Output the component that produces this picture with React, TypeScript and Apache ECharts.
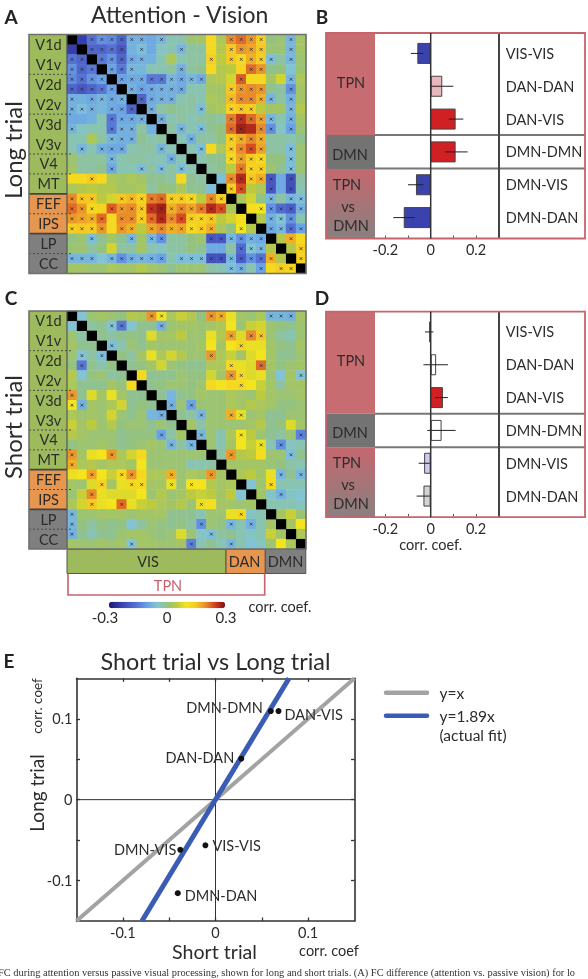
import React, { useEffect, useRef } from "react";
import * as echarts from "echarts";

// ---------- DATA ----------
const regionLabels = ["V1d","V1v","V2d","V2v","V3d","V3v","V4","MT","FEF","IPS","LP","CC"];
const cellIndex = Array.from({ length: 24 }, (_, i) => String(i));

// upper triangles, hundredths of a correlation coefficient
const longUpper = [
  [-24,-16,-12,-13,-18,-8,-8,-9,-7,-3,-3,1,2,12,3,20,22,19,14,0,1,-7,2],
  [-18,-18,-16,-20,-8,-6,-9,-4,-3,-7,-2,-2,12,4,15,19,18,15,1,1,-7,2],
  [-15,-12,-18,-9,-8,-8,-3,3,-3,-2,-2,14,5,15,12,17,14,-6,-2,-7,1],
  [-10,-15,-7,-7,-3,-3,-2,-8,-2,-1,12,4,5,13,22,19,-1,0,-5,1],
  [-10,-9,-9,-15,-15,-7,-9,-7,-9,3,4,7,23,12,12,2,7,-7,3],
  [-8,-10,-9,-8,-8,-9,-3,-3,2,2,15,19,20,19,-1,-2,-12,2],
  [-18,-9,-8,-8,-3,-2,-3,3,2,16,20,20,17,-7,-2,-8,2],
  [-8,-2,-1,-2,-2,-6,2,3,13,15,14,5,2,2,-7,4],
  [-8,-3,-2,-3,-2,-1,-2,21,26,22,18,-7,-3,-8,2],
  [-2,-7,-3,-6,-1,0,22,28,27,20,-12,-4,-10,1],
  [-3,-8,-2,-2,0,14,17,20,17,-2,-2,-3,-1],
  [-3,-6,12,3,14,20,24,18,-2,-2,-6,1],
  [-3,-1,-1,12,18,14,12,0,0,-6,1],
  [-2,-1,5,21,13,14,1,-1,-6,1],
  [-6,20,27,15,17,-20,-9,-21,-2],
  [14,24,5,3,-20,-9,-21,-3],
  [3,7,0,-7,-2,-7,-6],
  [11,10,-12,-17,-19,-8],
  [4,-8,-5,-12,-3],
  [-9,-7,-16,-10],
  [4,17,12],
  [4,14],
  [13],
];
const shortUpper = [
  [-5,1,2,1,0,4,3,19,10,3,6,4,0,19,17,9,2,1,3,-7,-7,-8,2],
  [-2,-1,-5,-15,-5,-1,-1,-8,1,2,2,1,2,3,10,1,6,7,1,0,-1,1],
  [-1,-2,-1,0,-1,8,2,2,5,1,1,9,4,18,8,20,15,1,-2,-3,1],
  [-6,-3,1,-1,2,1,1,1,1,2,10,2,10,13,9,9,2,0,-1,2],
  [0,-2,2,9,3,7,4,1,1,19,3,6,2,8,10,2,-1,-1,1],
  [-1,0,2,7,1,0,-1,-1,3,3,12,9,8,22,2,0,1,2],
  [12,-1,-1,-1,1,0,0,7,2,19,12,8,9,1,-5,2,-5],
  [-1,0,1,1,0,1,12,10,12,12,10,6,2,-2,2,2],
  [-1,-7,-1,0,2,1,1,3,2,1,5,2,1,1,2],
  [-8,1,-10,1,1,1,3,2,4,3,2,0,0,1],
  [-1,-2,-7,1,1,17,9,1,2,-1,-1,1,1],
  [2,-2,1,1,1,1,2,4,-1,0,8,2],
  [-7,1,-3,3,10,5,1,-1,-2,1,-14],
  [1,-3,2,10,6,9,-3,-12,-4,-3],
  [-2,19,4,5,11,1,1,-6,-1],
  [2,2,2,2,1,0,-2,-3],
  [3,5,2,9,-7,-1,-7],
  [-5,1,12,-3,-3,-3],
  [2,-4,-8,-4,-5],
  [-3,-3,-3,-4],
  [2,6,1],
  [2,10],
  [3],
];
// significant cells: for each row, the marked columns
const longMarks = [
  [2,3,4,5,6,7,9,16,17,18,19,22],
  [2,3,4,5,7,11,16,17,18,19,22],
  [0,1,3,4,5,6,7,14,16,17,18,19,20,22],
  [0,1,2,4,5,6,11,18,19],
  [0,1,2,3,5,6,7,8,9,10,11,12,13,17,22],
  [0,1,2,3,4,6,7,8,9,10,11,16,17,18,19,22],
  [0,2,3,4,5,7,8,9,10,16,17,18,19,20,22],
  [0,1,2,4,5,6,8,13,16,17,18,22],
  [4,5,6,7,9,16,17,18,19,20,22],
  [0,4,5,6,11,13,16,17,19,20,22],
  [4,5,6,12,16,17,18,19],
  [1,3,4,5,9,13,16,17,18,19,22],
  [4,10,16,17,18,19,22],
  [4,7,9,11,17,18,19,22],
  [2,16,17,18,19,20,22],
  [16,17,20,22],
  [0,1,2,5,6,7,8,9,10,11,12,14,15,20,22,23],
  [0,1,2,4,5,6,7,8,9,10,11,12,13,14,15,19,20,21,22,23],
  [0,1,2,3,5,6,7,8,9,10,11,12,13,14,20,21,22],
  [0,1,2,3,5,6,8,9,10,11,12,13,14,17,20,21,22,23],
  [2,6,8,9,14,15,16,17,18,19,22],
  [17,18,19,23],
  [0,1,2,4,5,6,7,8,9,11,12,13,14,15,16,17,18,19,20,23],
  [16,17,19,21,22],
];
const shortMarks = [
  [8,9,14,15,20,21,22],
  [4,5,9],
  [16,18,19],
  [4,17],
  [1,3,14],
  [1,16,19],
  [16,17,23],
  [17],
  [0],
  [0,1,10,12],
  [9,13,16,17],
  [],
  [9,13,17,23],
  [10,12,19,21],
  [0,4,16,22],
  [0],
  [2,5,6,10,14,21,23],
  [3,6,7,10,12,20],
  [2,21],
  [2,5,13],
  [0,17],
  [0,13,16,18],
  [0,14],
  [6,12,16],
];

const barLabels = ["VIS-VIS","DAN-DAN","DAN-VIS","DMN-DMN","DMN-VIS","DMN-DAN"];
const longMeans = [-0.059, 0.051, 0.11, 0.11, -0.065, -0.119];
const longLow = [-0.087, 0, 0.079, 0.063, -0.1, -0.165];
const longHigh = [-0.032, 0.1, 0.144, 0.163, -0.032, -0.07];
const longColors = ["#3a42ae","#e8b8bc","#d02024","#d02024","#3a42ae","#3a42ae"];
const shortMeans = [-0.007, 0.024, 0.054, 0.048, -0.029, -0.032];
const shortLow = [-0.025, -0.032, 0.02, -0.015, -0.053, -0.062];
const shortHigh = [0.012, 0.076, 0.076, 0.11, -0.004, -0.004];
const shortColors = ["#ffffff","#ffffff","#d02024","#ffffff","#ccccf2","#d4d4d4"];

const pointNames = ["DMN-DMN","DAN-VIS","DAN-DAN","DMN-VIS","VIS-VIS","DMN-DAN"];
const pointShort = [0.0597, 0.068, 0.0278, -0.038, -0.0109, -0.0407];
const pointLong = [0.1095, 0.1095, 0.0506, -0.062, -0.0564, -0.1156];
const identityLine = [[-0.15,-0.15],[0.15,0.15]];
const fitLine = [[-0.0794,-0.15],[0.0794,0.15]];
const zeroH = [[-0.15,0],[0.15,0]];
const zeroV = [[0,-0.15],[0,0.15]];

const colormap = ["#201470","#3038a8","#4858c0","#5878d8","#6aa4e6","#82c4d4","#94c280","#bcca40","#f4e41e","#f6c822","#e88c2c","#d43c20","#7c1010"];

const caption = "FC during attention versus passive visual processing, shown for long and short trials. (A) FC difference (attention vs. passive vision) for lo";

// ---------- HELPERS ----------
const FONT = "Lato";
const INK = "#2c2c2c";
const PINK = "#c8636c";
const GREEN = "#9dba5d";
const ORANGE = "#e6964f";
const GREY = "#7f7f7f";

function heatData(upper: number[][]) {
  const out: number[][] = [];
  upper.forEach((row, i) =>
    row.forEach((v, k) => {
      const j = i + 1 + k;
      out.push([j, i, v / 100], [i, j, v / 100]);
    })
  );
  return out;
}
const diagonalData = cellIndex.map((_, i) => [i, i]);
function markData(rows: number[][]) {
  const out: number[][] = [];
  rows.forEach((cols, r) => cols.forEach((c) => out.push([c, r])));
  return out;
}

function txt(text: string, x: number, y: number, size: number, extra: any = {}) {
  const { rotation, ...style } = extra;
  return {
    type: "text", x, y, z: 30, silent: true, rotation: rotation || 0,
    style: { text, fontFamily: FONT, fontSize: size, fill: INK, textAlign: "center", textVerticalAlign: "middle", ...style },
  };
}
function box(x: number, y: number, w: number, h: number, fill: any, z = 1, stroke?: string, lw = 0) {
  return { type: "rect", z, silent: true, shape: { x, y, width: w, height: h }, style: { fill, stroke, lineWidth: lw } };
}
function seg(x1: number, y1: number, x2: number, y2: number, stroke: string, lw: number, z = 10, extra: any = {}) {
  return { type: "line", z, silent: true, shape: { x1, y1, x2, y2 }, style: { stroke, lineWidth: lw, ...extra } };
}

function matrixSide(top: number, cell: number) {
  const left = 29, w = 38, out: any[] = [];
  out.push(box(left, top, w, cell * 16, GREEN));
  out.push(box(left, top + cell * 16, w, cell * 4, ORANGE));
  out.push(box(left, top + cell * 20, w, cell * 4, GREY));
  regionLabels.forEach((l, i) => out.push(txt(l, left + w / 2 + 0.5, top + (2 * i + 1) * cell, 14.5)));
  [4, 8, 12, 14, 18, 22].forEach((r) =>
    out.push(seg(left, top + r * cell, left + w + 4, top + r * cell, "#4a4a4a", 1, 12, { lineDash: [2, 2] }))
  );
  [16, 20].forEach((r) => out.push(seg(left, top + r * cell, left + w, top + r * cell, "#444", 1.6, 12)));
  out.push(seg(left + w, top, left + w, top + 24 * cell, "#555", 1.2, 12));
  out.push(box(left, top, 277, 24 * cell, "none", 12, "#6f6f6f", 1.6));
  return out;
}

function barFrame(top: number) {
  const out: any[] = [];
  const L = 326, R = 585, B = top + 205.5, W = 375;
  const fade = new echarts.graphic.LinearGradient(0, 0, 0, 1, [
    { offset: 0, color: "#c4686e" },
    { offset: 1, color: "#8a8080" },
  ]);
  out.push(box(L, top, W - L, 102, "#c76c70"));
  out.push(box(L, top + 102, W - L, 34, "#737373"));
  out.push(box(L, top + 136, W - L, B - top - 136, fade));
  out.push(seg(W, top + 102, R, top + 102, "#777", 2));
  out.push(seg(W, top + 135.5, R, top + 135.5, "#777", 2));
  out.push(seg(430.7, top, 430.7, B, "#333", 1.5, 25));
  out.push(seg(499, top, 499, B, "#444", 2));
  out.push(box(L, top, R - L, B - top, "none", 12, PINK, 1.8));
  out.push(txt("TPN", 351, top + 49, 14.5));
  out.push(txt("DMN", 350, top + 121, 14.5));
  out.push(txt("TPN", 347, top + 151, 14.5));
  out.push(txt("vs", 348, top + 173, 14.5));
  out.push(txt("DMN", 351, top + 192, 14.5));
  return out;
}

function errorSeries(low: number[], high: number[], gridIdx: number) {
  return {
    type: "custom",
    xAxisIndex: gridIdx,
    yAxisIndex: gridIdx,
    z: 6,
    silent: true,
    encode: { x: [0, 1], y: 2 },
    data: low.map((v, i) => [v, high[i], i]),
    renderItem: (_: any, api: any) => {
      const a = api.coord([api.value(0), api.value(2)]);
      const b = api.coord([api.value(1), api.value(2)]);
      return { type: "line", shape: { x1: a[0], y1: a[1], x2: b[0], y2: b[1] }, style: { stroke: "#222", lineWidth: 1 } };
    },
  };
}

const X_SYMBOL = "path://M0 0L10 10M10 0L0 10";

function App() {
  const ref = useRef<HTMLDivElement>(null);
  useEffect(() => {
    const chart = echarts.init(ref.current!, undefined, { renderer: "svg" });
    const cellA = 239 / 24;
    const cellC = 238 / 24;

    const hiddenCat = (gridIndex: number, inverse = false) => ({
      type: "category", gridIndex, data: cellIndex, show: false, inverse,
    });
    const barX = (gridIndex: number) => ({
      type: "value", gridIndex, min: -0.3, max: 0.3, offset: 4,
      axisLine: { show: false },
      splitLine: { show: false },
      axisTick: { show: true, inside: true, length: 2.5, lineStyle: { color: "#555" }, customValues: [-0.2, -0.1, 0, 0.1, 0.2] },
      axisLabel: {
        fontFamily: FONT, fontSize: 14.5, color: INK, margin: 4,
        customValues: [-0.2, 0, 0.2],
        formatter: (v: number) => (Math.abs(v) < 1e-9 ? "0" : String(v)),
      },
    });
    const barY = (gridIndex: number) => ({
      type: "category", gridIndex, data: barLabels, inverse: true, position: "right",
      axisLine: { show: false }, axisTick: { show: false },
      axisLabel: { fontFamily: FONT, fontSize: 14.5, color: INK, margin: 7 },
    });
    const eTicks = [-0.1, -0.05, 0, 0.05, 0.1];
    const eAxis = (position: string, withLabels: boolean) => ({
      type: "value", gridIndex: 4, min: -0.15, max: 0.15, position,
      axisLine: { onZero: false, lineStyle: { color: "#333", width: 1.6 } },
      splitLine: { show: false },
      axisTick: { inside: true, length: 3.5, lineStyle: { color: "#333", width: 1.3 }, customValues: eTicks },
      axisLabel: withLabels
        ? {
            fontFamily: FONT, fontSize: 14.5, color: INK, margin: 4,
            customValues: [-0.1, 0, 0.1],
            formatter: (v: number) => (Math.abs(v) < 1e-9 ? "0" : String(v)),
          }
        : { show: false },
    });

    const barSeries = (means: number[], colors: string[], g: number) => ({
      type: "bar", xAxisIndex: g, yAxisIndex: g, barWidth: 21, z: 4, silent: true,
      data: means.map((v, i) => ({ value: v, itemStyle: { color: colors[i], borderColor: "#444", borderWidth: 1 } })),
    });
    const marks = (rows: number[][], g: number) => ({
      type: "scatter", xAxisIndex: g, yAxisIndex: g, z: 5, silent: true,
      symbol: X_SYMBOL, symbolSize: 2.8,
      itemStyle: { color: "none", borderColor: "#23233a", borderWidth: 0.9, opacity: 0.8 },
      data: markData(rows),
    });
    const diag = (g: number, c: number) => ({
      type: "scatter", xAxisIndex: g, yAxisIndex: g, z: 4, silent: true,
      symbol: "rect", symbolSize: [c + 0.3, c + 0.3], itemStyle: { color: "#000", opacity: 1 }, data: diagonalData,
    });
    const eLine = (data: number[][], color: string, width: number, z: number) => ({
      type: "line", xAxisIndex: 4, yAxisIndex: 4, data, showSymbol: false, silent: true, z,
      lineStyle: { color, width },
    });

    const placement: Record<string, any> = {
      "DMN-DMN": { position: "left", distance: 5, offset: [0, -4] },
      "DAN-VIS": { position: "right", distance: 3, offset: [0, 3] },
      "DAN-DAN": { position: "left", distance: 4, offset: [0, -1] },
      "DMN-VIS": { position: "left", distance: 1, offset: [0, 0] },
      "VIS-VIS": { position: "right", distance: 4, offset: [0, 0] },
      "DMN-DAN": { position: "right", distance: 4, offset: [0, 2] },
    };

    const graphic: any[] = [
      ...matrixSide(34.5, cellA),
      ...matrixSide(311, cellC),
      ...barFrame(33),
      ...barFrame(311.7),
      box(67, 549.5, 159, 24, GREEN, 1, "#555", 1),
      box(226, 549.5, 39.3, 24, ORANGE, 1, "#555", 1),
      box(265.3, 549.5, 40.5, 24, GREY, 1, "#555", 1),
      txt("VIS", 148, 561.5, 14.5),
      txt("DAN", 244.5, 561.5, 14.5),
      txt("DMN", 285.5, 561.5, 14.5),
      { type: "polyline", z: 5, silent: true, shape: { points: [[68, 573.5], [68, 595], [264.7, 595], [264.7, 573.5]] }, style: { stroke: PINK, lineWidth: 1.6, fill: "none" } },
      txt("TPN", 168, 585, 14.5, { fill: "#c8636c" }),
      txt("-0.3", 105, 617, 15),
      txt("0", 167, 617, 15),
      txt("0.3", 226, 617, 15),
      txt("corr. coef.", 280, 606, 14.5),
      txt("corr. coef.", 430.7, 544, 14.5),
      txt("Attention - Vision", 179.7, 14, 23),
      txt("Long trial", 12.5, 150, 24, { rotation: Math.PI / 2 }),
      txt("Short trial", 12.5, 427, 24, { rotation: Math.PI / 2 }),
      txt("A", 11, 16, 19, { fontWeight: "bold", fill: "#222" }),
      txt("B", 322, 16, 19, { fontWeight: "bold", fill: "#222" }),
      txt("C", 11, 297, 19, { fontWeight: "bold", fill: "#222" }),
      txt("D", 322, 297, 19, { fontWeight: "bold", fill: "#222" }),
      txt("E", 9, 660, 19, { fontWeight: "bold", fill: "#222" }),
      txt("Short trial vs Long trial", 215.5, 660.7, 23.4),
      txt("Short trial", 214.5, 951, 19.6),
      txt("corr. coef", 329, 950, 14.5),
      txt("Long trial", 36, 793, 19, { rotation: Math.PI / 2 }),
      txt("corr. coef", 36.5, 706, 13.5, { rotation: Math.PI / 2 }),
      seg(386, 692.7, 427, 692.7, "#a3a3a3", 4.5, 20, { lineCap: "round" }),
      seg(386, 715.7, 427, 715.7, "#3a5cb4", 4.5, 20, { lineCap: "round" }),
      txt("y=x", 439.5, 692.7, 15.5, { textAlign: "left" }),
      txt("y=1.89x", 439.5, 715.7, 15.5, { textAlign: "left" }),
      txt("(actual fit)", 439.5, 735, 15.5, { textAlign: "left" }),
      txt(caption, -2, 972, 10.4, { textAlign: "left", fontFamily: "Liberation Serif", fill: "#333" }),
    ];

    chart.setOption({
      animation: false,
      backgroundColor: "#ffffff",
      grid: [
        { left: 67, top: 34.5, width: 239, height: 239 },
        { left: 67, top: 311, width: 239, height: 238 },
        { left: 362.7, top: 37, width: 136, height: 197 },
        { left: 362.7, top: 315.5, width: 136, height: 197 },
        { left: 76.5, top: 678.3, width: 278, height: 242.7 },
      ],
      xAxis: [hiddenCat(0), hiddenCat(1), barX(2), barX(3), eAxis("bottom", true), eAxis("top", false)],
      yAxis: [hiddenCat(0, true), hiddenCat(1, true), barY(2), barY(3), eAxis("left", true), eAxis("right", false)],
      visualMap: {
        type: "continuous", show: true, seriesIndex: [0, 1], dimension: 2,
        min: -0.3, max: 0.3, orient: "horizontal", left: 109, top: 601.7, padding: 0,
        itemWidth: 6.5, itemHeight: 116, calculable: false, hoverLink: false,
        inRange: { color: colormap },
      },
      series: [
        { type: "heatmap", xAxisIndex: 0, yAxisIndex: 0, data: heatData(longUpper), z: 2, silent: true },
        { type: "heatmap", xAxisIndex: 1, yAxisIndex: 1, data: heatData(shortUpper), z: 2, silent: true },
        diag(0, cellA),
        diag(1, cellC),
        marks(longMarks, 0),
        marks(shortMarks, 1),
        barSeries(longMeans, longColors, 2),
        barSeries(shortMeans, shortColors, 3),
        errorSeries(longLow, longHigh, 2),
        errorSeries(shortLow, shortHigh, 3),
        eLine(zeroH, "#333", 1, 2),
        eLine(zeroV, "#333", 1, 2),
        eLine(identityLine, "#a3a3a3", 4, 3),
        eLine(fitLine, "#3a5cb4", 5, 4),
        {
          type: "scatter", xAxisIndex: 4, yAxisIndex: 4, z: 6, silent: true, symbolSize: 6,
          itemStyle: { color: "#111", opacity: 1 },
          data: pointNames.map((name, i) => ({
            name,
            value: [pointShort[i], pointLong[i]],
            label: { show: true, formatter: name, fontFamily: FONT, fontSize: 14.5, color: INK, ...placement[name] },
          })),
        },
      ],
      graphic: { elements: graphic },
    });
    return () => chart.dispose();
  }, []);
  return (
    <div
      ref={ref}
      style={{ position: "absolute", left: 0, top: 0, width: 588, height: 979, overflow: "hidden", background: "#fff", filter: "blur(0.45px)" }}
    />
  );
}

export default App;
